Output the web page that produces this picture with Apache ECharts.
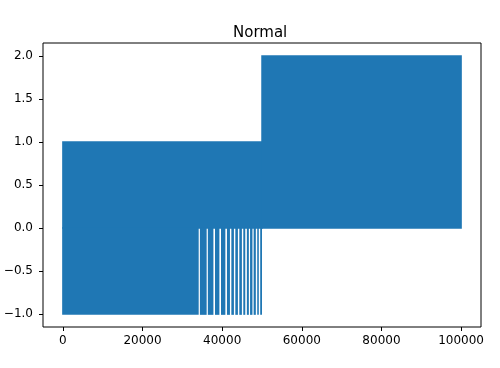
<!DOCTYPE html>
<html><head><meta charset="utf-8">
<script src="https://cdn.jsdelivr.net/npm/echarts@6/dist/echarts.min.js"></script>
<style>html,body{margin:0;padding:0;background:#fff}#c{width:500px;height:368px}</style>
</head><body><div id="c"></div>
<script>
const chartTitle = 'Normal';
const xTicks = [0, 20000, 40000, 60000, 80000, 100000];
const yTicks = [-1.0, -0.5, 0.0, 0.5, 1.0, 1.5, 2.0];
// Dense oscillation envelopes (sample index range, min value, max value)
const bandStart = [0, 50000];
const bandEnd = [50000, 99999];
const bandLow = [0, 0];
const bandHigh = [1, 2];
// Sample ranges where the signal dips down to -1
const dipStart = [0, 34400, 36400, 38200, 39700, 41200, 42300, 43300, 44300, 45300, 46200, 47000, 47900, 48800, 49550];
const dipEnd   = [34100, 36100, 37800, 39300, 40800, 41950, 42950, 43950, 44950, 45800, 46700, 47600, 48450, 49200, 50000];
const dipLow = -1;
const dipHigh = 0;

const blue = '#1f77b4';
const bands = [];
for (let i = 0; i < bandStart.length; i++) bands.push([bandStart[i], bandEnd[i], bandLow[i], bandHigh[i], 1]);
for (let i = 0; i < dipStart.length; i++) bands.push([dipStart[i], dipEnd[i], dipLow, dipHigh, 0]);

const font = 'DejaVu Sans';
const fmtY = v => (v < 0 ? '\u2212' : '') + Math.abs(v).toFixed(1);
const half = 0.75; // half of the 1.5px line width

const chart = echarts.init(document.getElementById('c'), null, {renderer: 'canvas'});
chart.setOption({
  animation: false,
  backgroundColor: '#fff',
  title: {
    text: chartTitle, left: 228, top: 21,
    textStyle: {fontFamily: font, fontSize: 15, fontWeight: 'normal', color: '#000'}
  },
  grid: {left: 43, right: 19, top: 43, bottom: 41, show: true, borderColor: '#000', borderWidth: 1},
  xAxis: {
    type: 'value', min: -5000, max: 105000,
    splitLine: {show: false},
    axisLine: {show: false, onZero: false},
    axisTick: {show: true, length: 4, customValues: xTicks, lineStyle: {color: '#000'}},
    axisLabel: {customValues: xTicks, color: '#000', fontFamily: font, fontSize: 12, margin: 8,
      formatter: v => String(v)}
  },
  yAxis: {
    type: 'value', min: -1.15, max: 2.15,
    splitLine: {show: false},
    axisLine: {show: false, onZero: false},
    axisTick: {show: true, length: 4, customValues: yTicks, lineStyle: {color: '#000'}},
    axisLabel: {customValues: yTicks, color: '#000', fontFamily: font, fontSize: 12, margin: 10,
      formatter: fmtY}
  },
  series: [{
    type: 'custom',
    data: bands,
    encode: {x: [0, 1], y: [2, 3]},
    renderItem: (params, api) => {
      const p0 = api.coord([api.value(0), api.value(3)]);
      const p1 = api.coord([api.value(1), api.value(2)]);
      const full = api.value(4) === 1;
      const hl = (full || api.value(0) === 0) ? half : 0;
      const hr = full ? half : 0;
      return {
        type: 'rect',
        shape: {x: p0[0] - hl, y: p0[1] - half, width: p1[0] - p0[0] + hl + hr, height: p1[1] - p0[1] + 2 * half},
        style: {fill: blue}
      };
    }
  }]
});
</script>
</body></html>
